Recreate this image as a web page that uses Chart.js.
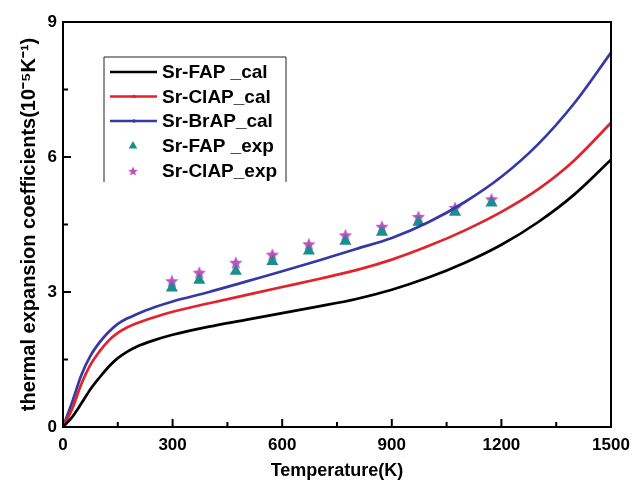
<!DOCTYPE html>
<html>
<head>
<meta charset="utf-8">
<script src="https://cdn.jsdelivr.net/npm/chart.js@4.4.1/dist/chart.umd.min.js"></script>
<style>
  html, body { margin: 0; padding: 0; background: #fff; }
</style>
</head>
<body>
<canvas id="chart" width="633" height="482"></canvas>
<script>
// calculated curves
const calcTemps = [0, 25, 50, 75, 100, 125, 150, 175, 200, 250, 300, 400, 500, 600, 700, 800, 900, 1000, 1100, 1200, 1300, 1400, 1500];
const srFapCal  = [0, 0.22, 0.52, 0.84, 1.10, 1.34, 1.53, 1.67, 1.78, 1.93, 2.05, 2.23, 2.38, 2.53, 2.68, 2.84, 3.05, 3.32, 3.65, 4.05, 4.55, 5.17, 5.94];
const srClapCal = [0, 0.40, 0.95, 1.38, 1.68, 1.92, 2.09, 2.21, 2.30, 2.44, 2.56, 2.75, 2.93, 3.11, 3.29, 3.48, 3.72, 4.02, 4.37, 4.78, 5.28, 5.93, 6.76];
const srBrapCal = [0, 0.55, 1.15, 1.58, 1.88, 2.11, 2.29, 2.41, 2.50, 2.66, 2.79, 3.00, 3.23, 3.46, 3.70, 3.95, 4.20, 4.55, 5.00, 5.56, 6.28, 7.20, 8.32];

// experimental points
const expTemps  = [298, 373, 473, 573, 673, 773, 873, 973, 1073, 1173];
const srFapExp  = [3.09, 3.26, 3.46, 3.68, 3.91, 4.13, 4.33, 4.55, 4.77, 4.98];
const srClapExp = [3.24, 3.43, 3.65, 3.83, 4.06, 4.26, 4.45, 4.67, 4.87, 5.06];

const xTicks = [0, 300, 600, 900, 1200, 1500];
const yTicks = [0, 3, 6, 9];

const toPoints = (xs, ys) => xs.map((x, i) => ({ x: x, y: ys[i] }));

// filled star marker
function makeStar(size, color) {
    const c = document.createElement('canvas');
    c.width = size; c.height = size;
    const g = c.getContext('2d');
    const cx = size / 2, cy = size / 2 + 0.5;
    const R = size / 2, r = R * 0.45;
    g.beginPath();
    for (let i = 0; i < 10; i++) {
        const rad = i % 2 === 0 ? R : r;
        const a = -Math.PI / 2 + i * Math.PI / 5;
        const px = cx + rad * Math.cos(a), py = cy + rad * Math.sin(a);
        if (i === 0) g.moveTo(px, py); else g.lineTo(px, py);
    }
    g.closePath();
    g.fillStyle = color;
    g.fill();
    return c;
}
const starBig = makeStar(14, '#c14fc4');
const starSmall = makeStar(10, '#c14fc4');

const FONT = "'Liberation Sans', Arial, sans-serif";

// frame + inward ticks
const framePlugin = {
    id: 'frame',
    afterDraw(chart) {
        const { ctx, chartArea: a, scales: { x, y } } = chart;
        ctx.save();
        ctx.strokeStyle = '#000';
        ctx.lineWidth = 2;
        ctx.beginPath();
        for (let v = 0; v <= 1500; v += 150) {
            const px = x.getPixelForValue(v);
            const len = v % 300 === 0 ? 8 : 5;
            ctx.moveTo(px, a.bottom);
            ctx.lineTo(px, a.bottom - len);
        }
        for (let v = 0; v <= 9; v += 1.5) {
            const py = y.getPixelForValue(v);
            const len = v % 3 === 0 ? 8 : 5;
            ctx.moveTo(a.left, py);
            ctx.lineTo(a.left + len, py);
        }
        ctx.stroke();
        ctx.strokeRect(a.left, a.top, a.right - a.left, a.bottom - a.top);
        ctx.restore();
    }
};

// legend box in the upper left of the plot
const legendPlugin = {
    id: 'boxLegend',
    afterDraw(chart) {
        const { ctx } = chart;
        const box = { left: 104, top: 57, right: 286, bottom: 182 };
        const rows = [72, 96.5, 121, 146, 171];
        ctx.save();
        ctx.strokeStyle = '#222';
        ctx.lineWidth = 1;
        ctx.beginPath();
        ctx.moveTo(box.left, box.bottom);
        ctx.lineTo(box.left, box.top);
        ctx.lineTo(box.right, box.top);
        ctx.lineTo(box.right, box.bottom);
        ctx.stroke();

        chart.data.datasets.forEach((ds, i) => {
            const yy = rows[i];
            if (ds.showLine !== false) {
                ctx.strokeStyle = ds.borderColor;
                ctx.lineWidth = 2.5;
                ctx.beginPath();
                ctx.moveTo(110, yy);
                ctx.lineTo(157, yy);
                ctx.stroke();
                if (i > 0) {
                    ctx.fillStyle = ds.borderColor;
                    ctx.beginPath();
                    ctx.arc(134, yy, 1.8, 0, Math.PI * 2);
                    ctx.fill();
                }
            } else {
                ctx.fillStyle = ds.backgroundColor;
                ctx.strokeStyle = ds.backgroundColor;
                const style = ds.legendStyle || ds.pointStyle;
                Chart.helpers.drawPoint(ctx, { pointStyle: style, rotation: 0, radius: 5, borderWidth: 0 }, 133, yy);
            }
            ctx.fillStyle = '#000';
            ctx.font = 'bold 19px ' + FONT;
            ctx.textAlign = 'left';
            ctx.textBaseline = 'middle';
            ctx.fillText(ds.label, 162, yy + 1);
        });
        ctx.restore();
    }
};

new Chart(document.getElementById('chart'), {
    type: 'scatter',
    data: {
        datasets: [
            { label: 'Sr-FAP _cal', data: toPoints(calcTemps, srFapCal), showLine: true, borderColor: '#000000', borderWidth: 2.7, pointRadius: 0, cubicInterpolationMode: 'monotone' },
            { label: 'Sr-ClAP_cal', data: toPoints(calcTemps, srClapCal), showLine: true, borderColor: '#e3222b', borderWidth: 2.7, pointRadius: 0, cubicInterpolationMode: 'monotone' },
            { label: 'Sr-BrAP_cal', data: toPoints(calcTemps, srBrapCal), showLine: true, borderColor: '#3539a8', borderWidth: 2.7, pointRadius: 0, cubicInterpolationMode: 'monotone' },
            { label: 'Sr-FAP _exp', data: toPoints(expTemps, srFapExp), showLine: false, pointStyle: 'triangle', pointRadius: 7, backgroundColor: '#178f8c', borderColor: '#178f8c', borderWidth: 0 },
            { label: 'Sr-ClAP_exp', data: toPoints(expTemps, srClapExp), showLine: false, pointStyle: starBig, legendStyle: starSmall, pointRadius: 7, backgroundColor: '#c14fc4', borderColor: '#c14fc4' }
        ]
    },
    options: {
        responsive: false,
        animation: false,
        layout: { padding: { left: 0, top: 22, right: 22, bottom: 0 } },
        plugins: { legend: { display: false }, tooltip: { enabled: false } },
        scales: {
            x: {
                type: 'linear', min: 0, max: 1500,
                afterFit(s) { s.height = 55; s.paddingLeft = 0; s.paddingRight = 0; },
                afterBuildTicks(s) { s.ticks = xTicks.map(v => ({ value: v })); },
                grid: { display: false, drawTicks: false },
                border: { display: false },
                ticks: { color: '#000', padding: 8, maxRotation: 0, callback: v => String(v), font: { family: FONT, size: 17, weight: 'bold' } },
                title: { display: true, text: 'Temperature(K)', color: '#000', padding: { top: 4, bottom: 0 }, font: { family: FONT, size: 18, weight: 'bold' } }
            },
            y: {
                type: 'linear', min: 0, max: 9,
                afterFit(s) { s.width = 63; },
                afterBuildTicks(s) { s.ticks = yTicks.map(v => ({ value: v })); },
                grid: { display: false, drawTicks: false },
                border: { display: false },
                ticks: { color: '#000', padding: 6, callback: v => String(v), font: { family: FONT, size: 17, weight: 'bold' } },
                title: { display: true, text: 'thermal expansion coefficients(10\u207B\u2075K\u207B\u00B9)', color: '#000', padding: { top: 17, bottom: 0 }, font: { family: FONT, size: 20, weight: 'bold' } }
            }
        }
    },
    plugins: [framePlugin, legendPlugin]
});
</script>
</body>
</html>
